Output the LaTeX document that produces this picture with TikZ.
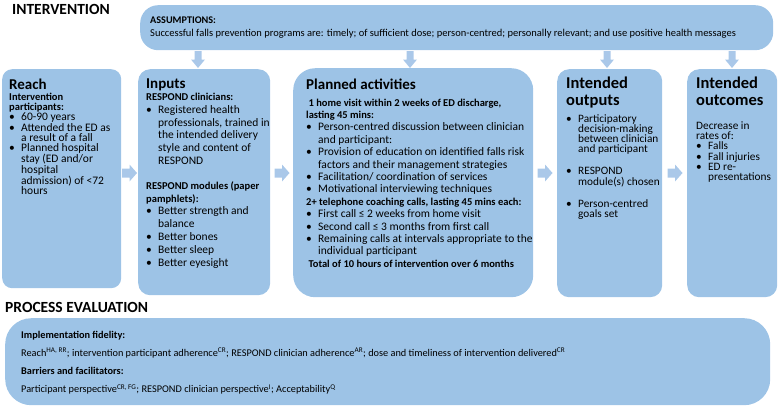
\documentclass[tikz,border=0pt]{standalone}
\usepackage{fontspec}
\setmainfont{Carlito}
\definecolor{boxblue}{RGB}{157,195,230}
\definecolor{arrblue}{RGB}{170,200,233}
\tikzset{
  panel/.style={fill=boxblue, draw=none, anchor=north west, inner sep=0pt},
  txt/.style={anchor=north west, inner sep=0pt, align=left},
  head/.style={anchor=base west, inner sep=0pt, align=left, font=\fontsize{15}{18}\selectfont\bfseries},
  bighead/.style={anchor=base west, inner sep=0pt, align=left, font=\fontsize{16.5}{18}\selectfont\bfseries},
  title/.style={anchor=base west, inner sep=0pt, font=\fontsize{15.5}{18}\selectfont\bfseries},
}
\newcommand{\bl}{\makebox[12pt][l]{\textbullet}}
\newcommand{\ind}{\hspace*{12pt}}
\newcommand{\bh}[1]{{\fontsize{10.5}{12}\selectfont\bfseries #1}}
\newcommand{\rarr}[1]{\fill[arrblue, shift={(#1)}] (-7.5,-4.5) -- (0,-4.5) -- (0,-8.5) -- (7.5,0) -- (0,8.5) -- (0,4.5) -- (-7.5,4.5) -- cycle;}
\newcommand{\darr}[1]{\fill[arrblue, shift={(#1)}] (-3.5,-8.5) -- (-3.5,0) -- (-7,0) -- (0,8.5) -- (7,0) -- (3.5,0) -- (3.5,-8.5) -- cycle;}
\begin{document}
\begin{tikzpicture}[x=1pt,y=-1pt]
\useasboundingbox (0,0) rectangle (778,408);
% titles
\node[title] (tint) at (12,14) {INTERVENTION};
\node[title] (tpe) at (5,312) {PROCESS EVALUATION};
% panels
\node[panel, rounded corners=18pt, minimum width=633pt, minimum height=45pt] (ass) at (140,5) {};
\node[panel, rounded corners=10pt, minimum width=119pt, minimum height=219pt] (reach) at (2,69) {};
\node[panel, rounded corners=12pt, minimum width=132pt, minimum height=226pt] (inputs) at (138,69) {};
\node[panel, rounded corners=22pt, minimum width=240pt, minimum height=229pt] (plan) at (293,68) {};
\node[panel, rounded corners=12pt, minimum width=105pt, minimum height=228pt] (outp) at (557,69) {};
\node[panel, rounded corners=12pt, minimum width=90pt, minimum height=228pt] (outc) at (687,69) {};
\node[panel, rounded corners=26pt, minimum width=765pt, minimum height=87pt] (pe) at (5,318) {};
% arrows
\darr{198,59.5}
\darr{410,59.5}
\darr{607,59.5}
\darr{732,59.5}
\rarr{129.5,173}
\rarr{282,173}
\rarr{545,173}
\rarr{675,173}
% assumptions text
\node[txt, font=\fontsize{10.5}{13}\selectfont] (asst) at (150,16.4) {{\fontsize{10.2}{13}\selectfont\bfseries ASSUMPTIONS:}\\Successful falls prevention programs are: timely; of sufficient dose; person-centred; personally relevant; and use positive health messages};
% reach
\node[head] (reachh) at (9,89) {Reach};
\node[txt, font=\fontsize{11.5}{10.2}\selectfont] (reacht) at (9,93) {\bh{Intervention}\\\bh{participants:}\\
\bl 60-90 years\\
\bl Attended the ED as\\ \ind a result of a fall\\
\bl Planned hospital\\ \ind stay (ED and/or\\ \ind hospital\\ \ind admission) of <72\\ \ind hours};
% inputs
\node[head] (inputsh) at (146,88) {Inputs};
\node[txt, font=\fontsize{11.5}{12.8}\selectfont] (inputst) at (146,93) {\bh{RESPOND clinicians:}\\
\bl Registered health\\ \ind professionals, trained in\\ \ind the intended delivery\\ \ind style and content of\\ \ind RESPOND\\[12pt]
\bh{RESPOND modules (paper}\\\bh{pamphlets):}\\
\bl Better strength and\\ \ind balance\\
\bl Better bones\\
\bl Better sleep\\
\bl Better eyesight};
% planned
\node[head] (planh) at (306,89) {Planned activities};
\node[txt, font=\fontsize{11.5}{12.4}\selectfont] (plant) at (306,98.5) {\bh{\ 1 home visit within 2 weeks of ED discharge,}\\\bh{lasting 45 mins:}\\
\bl Person-centred discussion between clinician\\ \ind and participant:\\
\bl Provision of education on identified falls risk\\ \ind factors and their management strategies\\
\bl Facilitation/ coordination of services\\
\bl Motivational interviewing techniques\\
\bh{2+ telephone coaching calls, lasting 45 mins each:}\\
\bl First call ≤ 2 weeks from home visit\\
\bl Second call ≤ 3 months from first call\\
\bl Remaining calls at intervals appropriate to the\\ \ind individual participant\\
\bh{\ Total of 10 hours of intervention over 6 months}};
% outputs
\node[bighead] (outph) at (566,88) {Intended};
\node[bighead] (outph2) at (566,105) {outputs};
\node[txt, font=\fontsize{11.3}{10.2}\selectfont] (outpt) at (566,114) {\bl Participatory\\ \ind decision-making\\ \ind between clinician\\ \ind and participant\\[12pt]
\bl RESPOND\\ \ind module(s) chosen\\[12pt]
\bl Person-centred\\ \ind goals set};
% outcomes
\node[bighead] (outch) at (696,88) {Intended};
\node[bighead] (outch2) at (696,105) {outcomes};
\node[txt, font=\fontsize{11.3}{10.2}\selectfont] (outct) at (696,121.5) {Decrease in\\rates of:\\
\bl Falls\\
\bl Fall injuries\\
\bl ED re-\\ \ind presentations};
% process evaluation
\node[txt, font=\fontsize{10.3}{18.3}\selectfont] (pet) at (21,330.6) {\textbf{Implementation fidelity:}\\
Reach\textsuperscript{HA, RR}; intervention participant adherence\textsuperscript{CR}; RESPOND clinician adherence\textsuperscript{AR}; dose and timeliness of intervention delivered\textsuperscript{CR}\\
\textbf{Barriers and facilitators:}\\
Participant perspective\textsuperscript{CR, FG}; RESPOND clinician perspective\textsuperscript{I}; Acceptability\textsuperscript{Q}};
\end{tikzpicture}
\end{document}
